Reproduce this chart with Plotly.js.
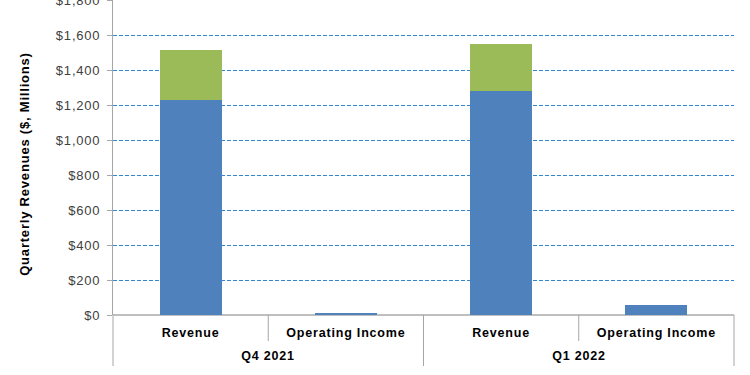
<!DOCTYPE html>
<html>
<head>
<meta charset="utf-8">
<script src="https://cdn.plot.ly/plotly-3.0.1.min.js"></script>
<style>
html,body{margin:0;padding:0;background:#fff;}
#chart text{letter-spacing:0.8px;}
</style>
</head>
<body>
<div id="chart" style="width:750px;height:375px;"></div>
<script>
// Data
const quarters = ["Q4 2021", "Q1 2022"];
const metrics = ["Revenue", "Operating Income", "Revenue", "Operating Income"];
const metricQuarter = ["Q4 2021", "Q4 2021", "Q1 2022", "Q1 2022"];
const segmentA = [1230, 11, 1281, 56];   // blue portion
const segmentB = [285, 3, 268, 2];       // green portion
const yTickVals = [0, 200, 400, 600, 800, 1000, 1200, 1400, 1600, 1800];
const yTickText = ["$0", "$200", "$400", "$600", "$800", "$1,000", "$1,200", "$1,400", "$1,600", "$1,800"];

const xIdx = metrics.map((_, i) => i);
const FONT = "Liberation Sans, Arial, sans-serif";

const traces = [
  {type: "bar", x: xIdx, y: segmentA, marker: {color: "#4f81bd"}, hoverinfo: "skip", showlegend: false},
  {type: "bar", x: xIdx, y: segmentB, marker: {color: "#9bbb59"}, hoverinfo: "skip", showlegend: false}
];

const plotH = 315; // px height of plotting area
const shapes = [];
[0, 0.5, 1].forEach(px => shapes.push({type: "line", xref: "paper", yref: "paper", x0: px, x1: px, y0: 0, y1: -51 / plotH, line: {color: "#a6a6a6", width: 1}}));
[0.25, 0.75].forEach(px => shapes.push({type: "line", xref: "paper", yref: "paper", x0: px, x1: px, y0: 0, y1: -26 / plotH, line: {color: "#a6a6a6", width: 1}}));

const annotations = quarters.map((q) => {
  const idx = metricQuarter.map((m, i) => m === q ? i : null).filter(v => v !== null);
  const center = (idx[0] + idx[idx.length - 1]) / 2;
  return {x: center, xref: "x", y: -41 / plotH, yref: "paper", text: "<b>" + q + "</b>", showarrow: false,
          xanchor: "center", yanchor: "middle", font: {family: FONT, size: 12.5, color: "#000"}};
});
annotations.push({x: (25 - 113) / 621, xref: "paper", y: (315 - 164) / plotH, yref: "paper",
  text: "<b>Quarterly Revenues ($, Millions)</b>", textangle: -90, showarrow: false,
  xanchor: "center", yanchor: "middle", font: {family: FONT, size: 13, color: "#000"}});

const layout = {
  width: 750, height: 375,
  margin: {l: 113, r: 16, t: 0, b: 60},
  paper_bgcolor: "#fff", plot_bgcolor: "#fff",
  barmode: "stack", bargap: 0.6,
  font: {family: FONT},
  xaxis: {
    range: [-0.5, metrics.length - 0.5],
    tickvals: xIdx, ticktext: metrics.map(m => "<b>" + m + "</b>"),
    tickfont: {family: FONT, size: 12.5, color: "#000"},
    showgrid: false, zeroline: false, showline: false, ticks: "", ticklabelstandoff: 8,
    fixedrange: true
  },
  yaxis: {
    range: [0, 1802], tickvals: yTickVals, ticktext: yTickText,
    tickfont: {family: FONT, size: 13, color: "#404040"},
    ticks: "outside", ticklen: 5, tickcolor: "#a6a6a6", ticklabelstandoff: 4,
    ticklabeloverflow: "allow",
    showline: true, linecolor: "#a6a6a6", linewidth: 1,
    showgrid: true, gridcolor: "#2f86d2", gridwidth: 1, griddash: "4px,2px",
    zeroline: true, zerolinecolor: "#bfbfbf", zerolinewidth: 2,
    fixedrange: true
  },
  shapes: shapes,
  annotations: annotations
};

Plotly.newPlot("chart", traces, layout, {displayModeBar: false, staticPlot: true});
</script>
</body>
</html>
